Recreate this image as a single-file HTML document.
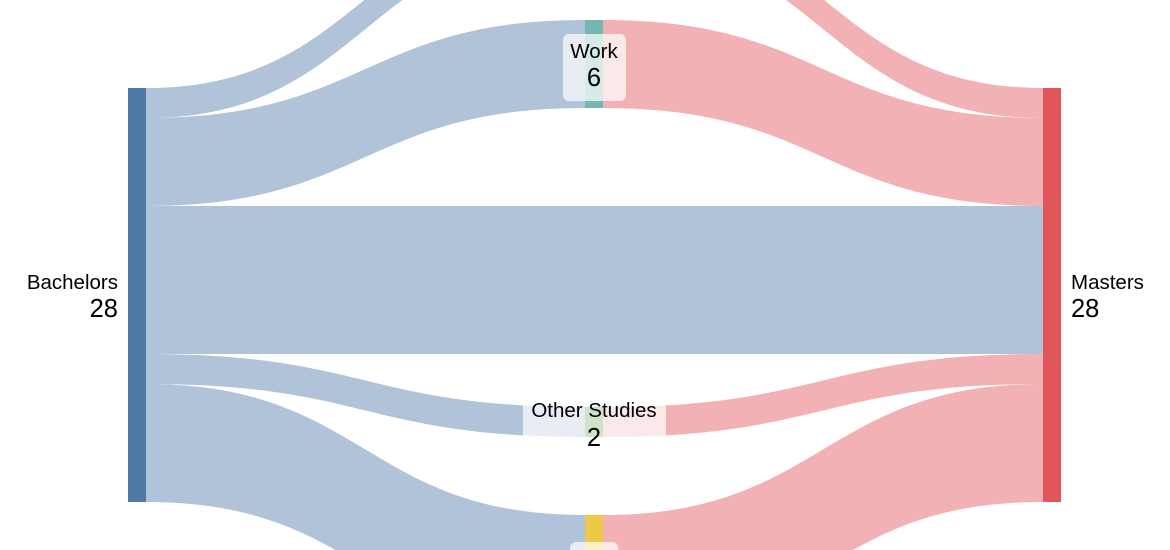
<!DOCTYPE html>
<html><head><style>html,body{margin:0;padding:0;background:#fff;overflow:hidden;width:1170px;height:550px;}svg{display:block;}</style></head>
<body>
<svg width="1170" height="550" viewBox="0 0 1170 550" xmlns="http://www.w3.org/2000/svg" font-family="Liberation Sans, sans-serif">
<g fill="#b0c3d8">
<path d="M146,88 C365.5,88 365.5,-90 585,-90 L585,-60 C365.5,-60 365.5,118 146,118 Z"/>
<path d="M146,118 C365.5,118 365.5,20 585,20 L585,108 C365.5,108 365.5,206 146,206 Z"/>
<rect x="146" y="206" width="897" height="148"/>
<path d="M146,354 C365.5,354 365.5,407 585,407 L585,437 C365.5,437 365.5,384 146,384 Z"/>
<path d="M146,384 C365.5,384 365.5,515 585,515 L585,633 C365.5,633 365.5,502 146,502 Z"/>
</g>
<g fill="#f2b1b5">
<path d="M603,-90 C823,-90 823,88 1043,88 L1043,118 C823,118 823,-60 603,-60 Z"/>
<path d="M603,20 C823,20 823,118 1043,118 L1043,206 C823,206 823,108 603,108 Z"/>
<path d="M603,407 C823,407 823,354 1043,354 L1043,384 C823,384 823,437 603,437 Z"/>
<path d="M603,515 C823,515 823,384 1043,384 L1043,502 C823,502 823,633 603,633 Z"/>
</g>
<rect x="128" y="88" width="18" height="414" fill="#4e79a7"/>
<rect x="1043" y="88" width="18" height="414" fill="#e15759"/>
<rect x="585" y="20" width="18" height="88" fill="#76b7b2"/>
<rect x="585" y="407" width="18" height="30" fill="#59a14f"/>
<rect x="585" y="515" width="18" height="118" fill="#edc948"/>
<rect x="563" y="34" width="63" height="67" rx="6" fill="#fff" fill-opacity="0.7"/>
<rect x="523" y="403" width="143" height="35" rx="4" fill="#fff" fill-opacity="0.7"/>
<rect x="570" y="542" width="48" height="40" rx="6" fill="#fff" fill-opacity="0.7"/>
<g fill="#000">
<text x="118" y="289" font-size="20.5" text-anchor="end">Bachelors</text>
<text x="118" y="317" font-size="25.5" text-anchor="end">28</text>
<text x="1071" y="289" font-size="20.5">Masters</text>
<text x="1071" y="317" font-size="25.5">28</text>
<text x="594" y="58" font-size="20.5" text-anchor="middle">Work</text>
<text x="594" y="86" font-size="25.5" text-anchor="middle">6</text>
<text x="594" y="417" font-size="20.5" text-anchor="middle">Other Studies</text>
<text x="594" y="446" font-size="25.5" text-anchor="middle">2</text>
</g>
</svg>
</body></html>
